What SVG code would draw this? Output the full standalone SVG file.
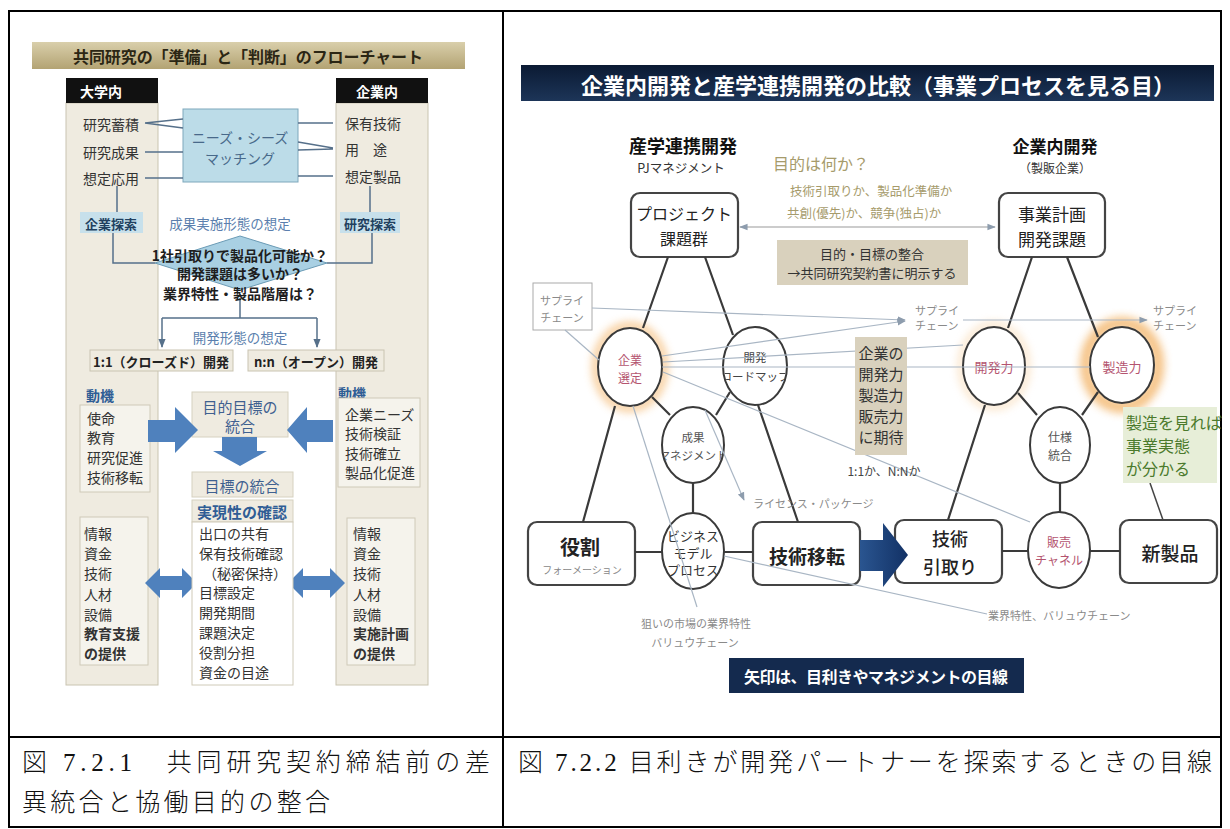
<svg xmlns="http://www.w3.org/2000/svg" width="1230" height="829" viewBox="0 0 1230 829">
<defs>
<style>
.jp{font-family:'Noto Sans CJK JP','Noto Sans',sans-serif}
.c{text-anchor:middle;dominant-baseline:central}
.l{dominant-baseline:central}
.b{font-weight:bold}
.item{font-size:14px;fill:#333}
.col{fill:#efebe0;stroke:#c9c4b1;stroke-width:1}
.inner{fill:#f5f3ec;stroke:#cfcab8;stroke-width:1}
.llink{stroke:#56708a;stroke-width:1.5;fill:none}
.big{fill:#4f81bd}
.blue{fill:#5b7fae;font-size:13.5px}
.dblue{fill:#3f6190}
.node{fill:#fff;stroke:#444;stroke-width:2.2}
.ell{fill:#fff;stroke:#3a3a3a;stroke-width:2}
.thick{stroke:#3a3a3a;stroke-width:2.2;fill:none}
.thin{stroke:#a9b6c4;stroke-width:1.2;fill:none}
.gray{fill:#8a8a8a;font-size:11px}
.pink{fill:#b4546f}
.tan{fill:#d9d1bd}
.tantext{fill:#a69b6b}
.cap{font-family:'Liberation Serif','Noto Sans CJK JP',serif;font-size:25px;font-weight:300;fill:#111}
</style>
<linearGradient id="tanGrad" x1="0" y1="0" x2="0" y2="1">
<stop offset="0" stop-color="#d9cfab"/><stop offset="1" stop-color="#b3a373"/>
</linearGradient>
<linearGradient id="navyGrad" x1="0" y1="0" x2="0" y2="1">
<stop offset="0" stop-color="#0b1a33"/><stop offset="1" stop-color="#1d3558"/>
</linearGradient>
<linearGradient id="arrowGrad" x1="0" y1="0" x2="1" y2="0">
<stop offset="0" stop-color="#2a5590"/><stop offset="1" stop-color="#123165"/>
</linearGradient>
<filter id="glow" x="-50%" y="-50%" width="200%" height="200%"><feGaussianBlur stdDeviation="4"/></filter>
<marker id="ah" viewBox="0 0 10 10" refX="9" refY="5" markerWidth="7" markerHeight="7" orient="auto-start-reverse">
<path d="M0,1 L10,5 L0,9 z" fill="#8d9cad"/>
</marker>
<marker id="ahL" viewBox="0 0 10 10" refX="9" refY="5" markerWidth="6" markerHeight="6" orient="auto">
<path d="M0,1 L10,5 L0,9 z" fill="#56708a"/>
</marker>
<clipPath id="clipRoad"><ellipse cx="755" cy="366" rx="31" ry="38"/></clipPath>
<clipPath id="clipSeika"><ellipse cx="693" cy="445" rx="30" ry="37"/></clipPath>
</defs>

<rect width="1230" height="829" fill="#fff"/>

<g id="table" fill="none" stroke="#000" stroke-width="2">
<rect x="9" y="11" width="1212" height="816"/>
<line x1="503" y1="11" x2="503" y2="827"/>
<line x1="9" y1="737" x2="1221" y2="737"/>
</g>

<!-- ============ LEFT FIGURE ============ -->
<g id="left-title">
<rect x="32" y="42" width="433" height="27" fill="url(#tanGrad)"/>
<text class="jp c b" x="248" y="56" font-size="16" fill="#2b2614" textLength="350">共同研究の「準備」と「判断」のフローチャート</text>
</g>

<g id="univ-column">
<rect class="col" x="66" y="103" width="92" height="582"/>
<rect x="66" y="78" width="92" height="25" fill="#111"/>
<text class="jp l b" x="80" y="91" font-size="14" fill="#fff">大学内</text>
<text class="jp l item" x="83" y="124">研究蓄積</text>
<text class="jp l item" x="83" y="152">研究成果</text>
<text class="jp l item" x="83" y="178">想定応用</text>
</g>
<g id="univ-search">
<rect x="80" y="212" width="63" height="21" fill="#c7e0eb"/>
<text class="jp c b" x="111" y="223" font-size="13" fill="#21405f">企業探索</text>
</g>
<g id="univ-motive">
<text class="jp l b" x="86" y="395" font-size="14" fill="#2f5d95">動機</text>
<rect class="inner" x="80" y="405" width="70" height="87"/>
<text class="jp l item" x="87" y="418">使命</text>
<text class="jp l item" x="87" y="437">教育</text>
<text class="jp l item" x="87" y="457">研究促進</text>
<text class="jp l item" x="87" y="477">技術移転</text>
</g>
<g id="univ-resources">
<rect class="inner" x="80" y="517" width="68" height="148"/>
<text class="jp l item" x="84" y="533">情報</text>
<text class="jp l item" x="84" y="553">資金</text>
<text class="jp l item" x="84" y="573">技術</text>
<text class="jp l item" x="84" y="594">人材</text>
<text class="jp l item" x="84" y="614">設備</text>
<text class="jp l item b" x="84" y="633">教育支援</text>
<text class="jp l item b" x="84" y="653">の提供</text>
</g>

<g id="corp-column">
<rect class="col" x="336" y="103" width="92" height="582"/>
<rect x="336" y="78" width="92" height="25" fill="#111"/>
<text class="jp l b" x="356" y="91" font-size="14" fill="#fff">企業内</text>
<text class="jp l item" x="345" y="123">保有技術</text>
<text class="jp l item" x="345" y="149">用　途</text>
<text class="jp l item" x="345" y="176">想定製品</text>
</g>
<g id="corp-search">
<rect x="340" y="212" width="60" height="21" fill="#c7e0eb"/>
<text class="jp c b" x="370" y="223" font-size="13" fill="#21405f">研究探索</text>
</g>
<g id="corp-motive">
<text class="jp l b" x="338" y="393" font-size="14" fill="#2f5d95">動機</text>
<rect class="inner" x="338" y="398" width="82" height="89"/>
<text class="jp l item" x="345" y="414">企業ニーズ</text>
<text class="jp l item" x="345" y="433">技術検証</text>
<text class="jp l item" x="345" y="453">技術確立</text>
<text class="jp l item" x="345" y="472">製品化促進</text>
</g>
<g id="corp-resources">
<rect class="inner" x="347" y="518" width="68" height="147"/>
<text class="jp l item" x="353" y="533">情報</text>
<text class="jp l item" x="353" y="553">資金</text>
<text class="jp l item" x="353" y="573">技術</text>
<text class="jp l item" x="353" y="594">人材</text>
<text class="jp l item" x="353" y="614">設備</text>
<text class="jp l item b" x="353" y="633">実施計画</text>
<text class="jp l item b" x="353" y="653">の提供</text>
</g>

<g id="matching">
<rect x="183" y="109" width="115" height="73" fill="#bcdce8" stroke="#7ea8bc"/>
<text class="jp c" x="240" y="137" font-size="14" fill="#48698a">ニーズ・シーズ</text>
<text class="jp c" x="240" y="158" font-size="14" fill="#48698a">マッチング</text>
</g>

<g id="left-connectors">
<path class="llink" d="M145,123 L183,119 M145,123 L183,128 M145,152 L183,152 M145,178 L183,178"/>
<path class="llink" d="M298,123 L333,123 M298,142 L333,148 M298,150 L333,149 M298,176 L333,176"/>
<path class="llink" d="M117,186 V212 M370,186 V212"/>
<path class="llink" d="M113,233 V263 H155 M372,233 V263 H327"/>
<path class="llink" d="M240,298 V318 M162,318 H317"/>
<path class="llink" d="M162,318 V347" marker-end="url(#ahL)"/>
<path class="llink" d="M317,318 V347" marker-end="url(#ahL)"/>
</g>

<g id="form-assumption">
<text class="jp c blue" x="230" y="223">成果実施形態の想定</text>
</g>
<g id="decision">
<polygon points="155,263 240,236 327,263 240,290" fill="#a9d0e3" stroke="#6b9bb5"/>
<text class="jp c b" x="240" y="255" font-size="14" fill="#1e1e1e">1社引取りで製品化可能か？</text>
<text class="jp c b" x="240" y="273" font-size="14" fill="#1e1e1e">開発課題は多いか？</text>
<text class="jp c b" x="240" y="293" font-size="14" fill="#1e1e1e">業界特性・製品階層は？</text>
</g>
<g id="dev-form">
<text class="jp c blue" x="240" y="337">開発形態の想定</text>
</g>
<g id="closed-dev">
<rect class="col" x="90" y="350" width="143" height="21"/>
<text class="jp c b" x="161" y="361" font-size="13" fill="#222">1:1（クローズド）開発</text>
</g>
<g id="open-dev">
<rect class="col" x="248" y="350" width="136" height="21"/>
<text class="jp c b" x="316" y="361" font-size="13" fill="#222">n:n（オープン）開発</text>
</g>

<g id="goal-integration">
<rect x="192" y="392" width="96" height="45" fill="#efebe0" stroke="#d6d1c0"/>
<text class="jp c dblue" x="240" y="406" font-size="15">目的目標の</text>
<text class="jp c dblue" x="240" y="425" font-size="15">統合</text>
</g>
<g id="big-arrows">
<polygon class="big" points="148,420 175,420 175,407 198,430 175,453 175,442 148,442"/>
<polygon class="big" points="333,420 307,420 307,407 287,430 307,453 307,442 333,442"/>
<polygon class="big" points="222,437 257,437 257,451 267,451 240,466 213,451 222,451"/>
<polygon class="big" points="145,583 160,568 160,576 182,576 182,568 197,583 182,598 182,590 160,590 160,598"/>
<polygon class="big" points="288,583 303,568 303,576 330,576 330,568 345,583 330,598 330,590 303,590 303,598"/>
</g>
<g id="target-integration">
<rect x="192" y="472" width="101" height="25" fill="#efebe0" stroke="#d6d1c0"/>
<text class="jp c dblue" x="242" y="485" font-size="15">目標の統合</text>
<rect x="192" y="500" width="101" height="22" fill="#efebe0" stroke="#d6d1c0"/>
<text class="jp c b" x="242" y="511" font-size="15" fill="#2f5d95">実現性の確認</text>
<rect x="192" y="522" width="101" height="163" fill="#fff" stroke="#cfcab8"/>
<text class="jp l item" x="199" y="533">出口の共有</text>
<text class="jp l item" x="199" y="553">保有技術確認</text>
<text class="jp l item" x="203" y="573">（秘密保持）</text>
<text class="jp l item" x="199" y="592">目標設定</text>
<text class="jp l item" x="199" y="612">開発期間</text>
<text class="jp l item" x="199" y="632">課題決定</text>
<text class="jp l item" x="199" y="652">役割分担</text>
<text class="jp l item" x="199" y="672">資金の目途</text>
</g>

<!-- ============ RIGHT FIGURE ============ -->
<g id="right-title">
<rect x="521" y="65" width="693" height="36" fill="url(#navyGrad)"/>
<text class="jp c b" x="878" y="84" font-size="22" fill="#fff" textLength="594">企業内開発と産学連携開発の比較（事業プロセスを見る目）</text>
</g>
<g id="header-left">
<text class="jp c b" x="683" y="145" font-size="18" fill="#111">産学連携開発</text>
<text class="jp c" x="681" y="167" font-size="12.5" fill="#333">PJマネジメント</text>
</g>
<g id="header-right">
<text class="jp c b" x="1055" y="145" font-size="17" fill="#111">企業内開発</text>
<text class="jp c" x="1055" y="167" font-size="12" fill="#333">（製販企業）</text>
</g>
<g id="purpose-question">
<text class="jp l tantext" x="773" y="163" font-size="16">目的は何か？</text>
<text class="jp l tantext" x="790" y="190" font-size="12.5">技術引取りか、製品化準備か</text>
<text class="jp l tantext" x="787" y="212" font-size="12.5">共創(優先)か、競争(独占)か</text>
</g>

<g id="project">
<rect class="node" x="631" y="193" width="107" height="64" rx="9"/>
<text class="jp c" x="684" y="213" font-size="16" fill="#222">プロジェクト</text>
<text class="jp c" x="684" y="238" font-size="16" fill="#222">課題群</text>
</g>
<g id="business-plan">
<rect class="node" x="999" y="193" width="106" height="64" rx="9"/>
<text class="jp c" x="1052" y="213" font-size="17" fill="#222">事業計画</text>
<text class="jp c" x="1052" y="238" font-size="17" fill="#222">開発課題</text>
</g>
<g id="supply-left">
<rect x="533" y="283" width="59" height="47" fill="#fff" stroke="#aaa"/>
<text class="jp c gray" x="562" y="300">サプライ</text>
<text class="jp c gray" x="562" y="317">チェーン</text>
</g>
<g id="supply-mid">
<text class="jp l gray" x="915" y="310">サプライ</text>
<text class="jp l gray" x="915" y="325">チェーン</text>
</g>
<g id="supply-right">
<text class="jp l gray" x="1153" y="310">サプライ</text>
<text class="jp l gray" x="1153" y="325">チェーン</text>
</g>

<g id="company-selection">
<ellipse cx="630" cy="367" rx="34" ry="41" fill="none" stroke="#f2a850" stroke-width="8" opacity="0.6" filter="url(#glow)"/>
<ellipse class="ell" cx="630" cy="367" rx="32" ry="39"/>
<text class="jp c pink" x="630" y="359" font-size="12">企業</text>
<text class="jp c pink" x="630" y="377" font-size="12">選定</text>
</g>
<g id="dev-roadmap">
<ellipse class="ell" cx="755" cy="366" rx="32" ry="39"/>
<text class="jp c" x="755" y="357" font-size="11.5" fill="#444">開発</text>
<text class="jp c" x="755" y="376" font-size="11.5" fill="#444" clip-path="url(#clipRoad)">ロードマップ</text>
</g>
<g id="result-mgmt">
<ellipse class="ell" cx="693" cy="445" rx="31" ry="38"/>
<text class="jp c" x="693" y="437" font-size="11.5" fill="#555">成果</text>
<text class="jp c" x="693" y="455" font-size="11.5" fill="#555" clip-path="url(#clipSeika)">マネジメント</text>
</g>
<g id="business-model">
<ellipse class="ell" cx="693" cy="551" rx="31" ry="38"/>
<text class="jp c" x="693" y="535" font-size="13" fill="#333">ビジネス</text>
<text class="jp c" x="693" y="552" font-size="13" fill="#333">モデル</text>
<text class="jp c" x="693" y="569" font-size="13" fill="#333">プロセス</text>
</g>
<g id="dev-power">
<ellipse cx="994" cy="366" rx="33" ry="41" fill="none" stroke="#f5c58a" stroke-width="6" opacity="0.5" filter="url(#glow)"/>
<ellipse class="ell" cx="994" cy="366" rx="31" ry="39"/>
<text class="jp c pink" x="994" y="366" font-size="13">開発力</text>
</g>
<g id="mfg-power">
<ellipse cx="1122" cy="365" rx="36" ry="42" fill="none" stroke="#f0a040" stroke-width="12" opacity="0.65" filter="url(#glow)"/>
<ellipse class="ell" cx="1122" cy="365" rx="32" ry="38"/>
<text class="jp c pink" x="1122" y="366" font-size="13">製造力</text>
</g>
<g id="spec-integration">
<ellipse class="ell" cx="1060" cy="445" rx="30" ry="38"/>
<text class="jp c" x="1060" y="436" font-size="12" fill="#555">仕様</text>
<text class="jp c" x="1060" y="454" font-size="12" fill="#555">統合</text>
</g>
<g id="sales-channel">
<ellipse class="ell" cx="1059" cy="550" rx="31" ry="38"/>
<text class="jp c pink" x="1059" y="541" font-size="12">販売</text>
<text class="jp c pink" x="1059" y="559" font-size="12">チャネル</text>
</g>
<g id="role">
<rect class="node" x="528" y="522" width="107" height="63" rx="9"/>
<text class="jp c b" x="580" y="546" font-size="20" fill="#222">役割</text>
<text class="jp c" x="582" y="569" font-size="10" fill="#888">フォーメーション</text>
</g>
<g id="tech-transfer">
<rect class="node" x="753" y="522" width="107" height="63" rx="9"/>
<text class="jp c b" x="807" y="555" font-size="19" fill="#222">技術移転</text>
</g>
<g id="tech-takeover">
<rect class="node" x="895" y="520" width="107" height="63" rx="9"/>
<text class="jp c" x="950" y="538" font-size="18" fill="#222" font-weight="500">技術</text>
<text class="jp c" x="950" y="566" font-size="18" fill="#222" font-weight="500">引取り</text>
</g>
<g id="new-product">
<rect class="node" x="1120" y="520" width="97" height="63" rx="9"/>
<text class="jp c" x="1170" y="552" font-size="19" fill="#222" font-weight="500">新製品</text>
</g>
<g id="navy-arrow">
<polygon points="860,540 883,540 883,523 908,555 883,587 883,571 860,571" fill="url(#arrowGrad)"/>
</g>

<g id="connectors">
<path class="thick" d="M668,257 L643,328 M705,257 L733,335 M615,406 L583,522 M758,405 L798,522 M652,397 L670,415 M730,392 L716,415 M693,483 V513 M635,552 H662 M724,552 H753"/>
<path class="thick" d="M1032,257 L1008,328 M1067,257 L1098,337 M985,405 L948,520 M1018,393 L1037,415 M1098,392 L1082,415 M1060,483 V512 M1002,551 H1028 M1090,551 H1120"/>
<path d="M1163,520 L1150,483" stroke="#444" stroke-width="1.5" fill="none"/>
<path d="M740,227 H995" stroke="#9a9a9a" stroke-width="1.2" fill="none" marker-start="url(#ah)" marker-end="url(#ah)"/>
<path class="thin" d="M592,308 L905,320" marker-end="url(#ah)"/>
<path class="thin" d="M662,356 L905,321" marker-end="url(#ah)"/>
<path class="thin" d="M663,362 L963,345"/>
<path class="thin" d="M662,367 H1090"/>
<path class="thin" d="M663,372 L1030,522"/>
<path class="thin" d="M705,410 L744,500" marker-end="url(#ah)"/>
<path class="thin" d="M633,406 L697,607"/>
<path class="thin" d="M565,330 L599,360"/>
<path class="thin" d="M963,320 H1147" marker-end="url(#ah)"/>
<path class="thin" d="M724,556 L987,614"/>
</g>

<g id="alignment-note">
<rect class="tan" x="777" y="240" width="191" height="45"/>
<text class="jp c" x="872" y="253" font-size="13" fill="#333">目的・目標の整合</text>
<text class="jp c" x="872" y="272" font-size="13" fill="#333">→共同研究契約書に明示する</text>
</g>
<g id="expectation-note">
<rect class="tan" x="855" y="337" width="52" height="118"/>
<text class="jp c" x="881" y="352" font-size="15" fill="#333">企業の</text>
<text class="jp c" x="881" y="373" font-size="15" fill="#333">開発力</text>
<text class="jp c" x="881" y="394" font-size="15" fill="#333">製造力</text>
<text class="jp c" x="881" y="415" font-size="15" fill="#333">販売力</text>
<text class="jp c" x="881" y="436" font-size="15" fill="#333">に期待</text>
</g>
<g id="mfg-note">
<rect x="1123" y="407" width="94" height="76" fill="#e7eed8"/>
<text class="jp l" x="1126" y="422" font-size="16" fill="#4b7a2c">製造を見れば</text>
<text class="jp l" x="1126" y="445" font-size="16" fill="#4b7a2c">事業実態</text>
<text class="jp l" x="1126" y="468" font-size="16" fill="#4b7a2c">が分かる</text>
</g>
<g id="labels">
<text class="jp l gray" x="753" y="503">ライセンス・パッケージ</text>
<text class="jp c" x="884" y="470" font-size="12" fill="#444">1:1か、N:Nか</text>
<text class="jp l gray" x="988" y="615">業界特性、バリュウチェーン</text>
<text class="jp c gray" x="696" y="623">狙いの市場の業界特性</text>
<text class="jp c gray" x="695" y="642">バリュウチェーン</text>
</g>
<g id="arrow-note">
<rect x="729" y="658" width="295" height="35" fill="#142a4e"/>
<text class="jp c b" x="876" y="676" font-size="16" fill="#fff" textLength="264">矢印は、目利きやマネジメントの目線</text>
</g>

<g id="captions">
<text class="cap" x="22" y="771" textLength="468">図 7.2.1　共同研究契約締結前の差</text>
<text class="cap" x="22" y="811" textLength="308">異統合と協働目的の整合</text>
<text class="cap" x="518" y="771" textLength="694">図 7.2.2 目利きが開発パートナーを探索するときの目線</text>
</g>
</svg>
